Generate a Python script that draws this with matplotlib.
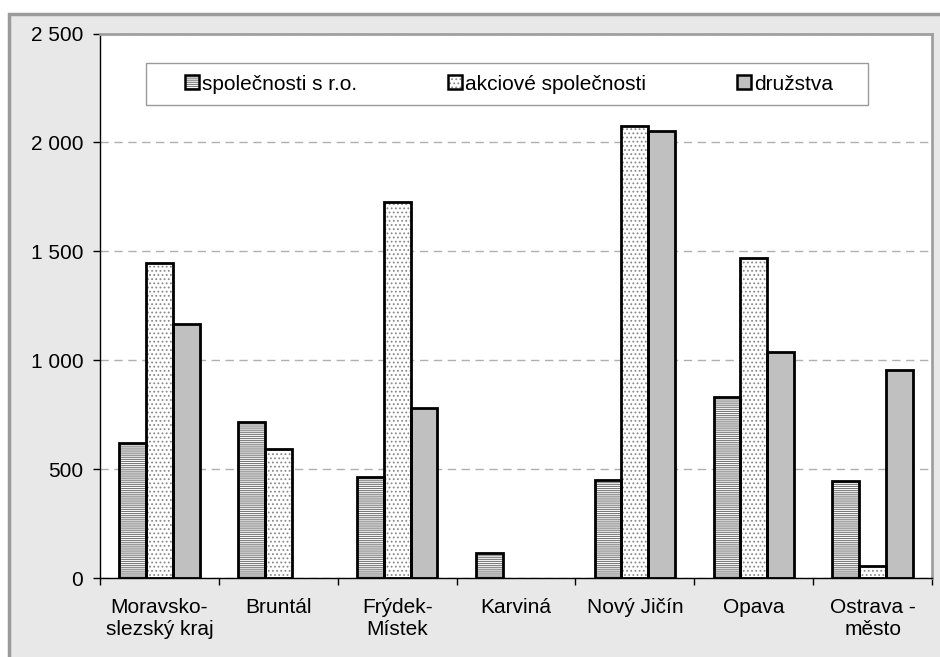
#!/usr/bin/env python3
"""Počet podniků podle právní formy v okresech Moravskoslezského kraje."""

import numpy as np
import matplotlib
matplotlib.use("Agg")
import matplotlib.pyplot as plt
from matplotlib.patches import Rectangle, Patch
from matplotlib.ticker import FuncFormatter, FixedLocator

plt.rcParams['font.family'] = ['Liberation Sans', 'DejaVu Sans']
plt.rcParams['hatch.linewidth'] = 0.8

# Data
categories = ['Moravsko-\nslezský kraj', 'Bruntál', 'Frýdek-\nMístek', 'Karviná',
              'Nový Jičín', 'Opava', 'Ostrava -\nměsto']
sro = [620, 718, 467, 118, 453, 832, 446]
akciove = [1445, 593, 1728, 0, 2074, 1472, 55]
druzstva = [1168, 0, 783, 0, 2051, 1039, 956]
series_labels = ['společnosti s r.o.', 'akciové společnosti', 'družstva']

# Styles: (face, hatch, hatch colour)
styles = [
    ('white', '--------', '#7a7a7a'),
    ('white', '....', '#8a8a8a'),
    ('#c0c0c0', None, '#c0c0c0'),
]

fig = plt.figure(figsize=(9.4, 6.57), dpi=100, facecolor='white')
# grey chart frame (cut off at right and bottom as in the original)
fig.patches.append(Rectangle((9 / 940, -0.05), 960 / 940, 1.05 - 14 / 657,
                             transform=fig.transFigure, facecolor='#e8e8e8',
                             edgecolor='#9a9a9a', linewidth=2.5, zorder=-10))

ax = fig.add_axes([100 / 940, 1 - 578.3 / 657, 832 / 940, 544.8 / 657])
ax.set_facecolor('white')

x = np.arange(len(categories))
width = 0.225
handles = []
for i, (vals, (face, hatch, hcol)) in enumerate(zip([sro, akciove, druzstva], styles)):
    vals = np.array(vals, dtype=float)
    keep = vals > 0
    pos = x + (i - 1) * width
    ax.bar(pos[keep], vals[keep], width, color=face, hatch=hatch, edgecolor=hcol,
           linewidth=0, zorder=2)
    ax.bar(pos[keep], vals[keep], width, fill=False, edgecolor='black',
           linewidth=2, zorder=3)
    handles.append((Patch(facecolor=face, hatch=hatch, edgecolor=hcol, linewidth=0),
                    Patch(fill=False, edgecolor='black', linewidth=1.8)))

ax.set_xlim(-0.5, len(categories) - 0.5)
ax.set_ylim(0, 2500)
ax.set_yticks(np.arange(0, 2501, 500))
ax.yaxis.set_major_formatter(FuncFormatter(lambda v, p: f"{v:,.0f}".replace(',', ' ')))
ax.yaxis.grid(True, color='#b0b0b0', linestyle=(0, (6, 4)), linewidth=1, zorder=1)

ax.xaxis.set_major_locator(FixedLocator(np.arange(len(categories) + 1) - 0.5))
ax.xaxis.set_minor_locator(FixedLocator(x))
ax.set_xticklabels([], minor=False)
ax.set_xticklabels(categories, minor=True)
ax.tick_params(axis='x', which='major', direction='out', length=5, width=1)
ax.tick_params(axis='x', which='minor', length=0, pad=14, labelsize=15)
ax.tick_params(axis='y', direction='out', length=5, width=1, pad=7, labelsize=15)

for side in ['top', 'right']:
    ax.spines[side].set_color('#a0a0a0')
    ax.spines[side].set_linewidth(2)
ax.spines['left'].set_linewidth(1)
ax.spines['bottom'].set_linewidth(1)

fig.patches.append(Rectangle((146 / 940, 1 - 105 / 657), 722 / 940, 42 / 657,
                             transform=fig.transFigure, facecolor='white',
                             edgecolor='#9a9a9a', linewidth=1, zorder=5))
leg = fig.legend(handles, series_labels, ncol=3, loc='center',
                 bbox_to_anchor=(509 / 940, 1 - 84 / 657),
                 bbox_transform=fig.transFigure, fontsize=15,
                 handlelength=0.67, handleheight=0.67, handletextpad=0.15,
                 columnspacing=4.35, fancybox=False, frameon=False, borderaxespad=0)
leg.set_zorder(6)

fig.savefig('out.png', dpi=100)
